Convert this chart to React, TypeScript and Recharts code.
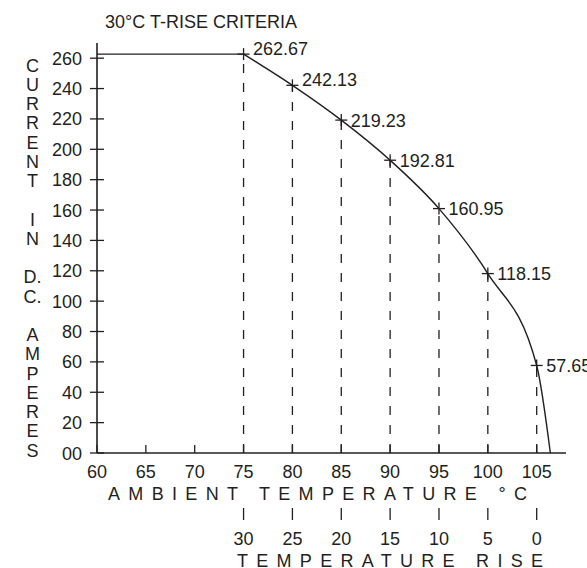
import React from "react";
import {
  ComposedChart,
  Line,
  Scatter,
  XAxis,
  YAxis,
  ReferenceLine,
  LabelList,
  Label,
} from "recharts";

// ---- data ----
const ambientTemps = [75, 80, 85, 90, 95, 100, 105];
const currents = [262.67, 242.13, 219.23, 192.81, 160.95, 118.15, 57.65];
const flatStart = { x: 60, y: 262.67 };
const curveEnd = { x: 106.4, y: 0 };
const xTicks = [60, 65, 70, 75, 80, 85, 90, 95, 100, 105];
const yTicks = [0, 20, 40, 60, 80, 100, 120, 140, 160, 180, 200, 220, 240, 260];
const riseTicks = [75, 80, 85, 90, 95, 100, 105];
const riseBase = 105;
const yLabelLetters = [
  "C", "U", "R", "R", "E", "N", "T", "", "I", "N", "", "D.", "C.", "",
  "A", "M", "P", "E", "R", "E", "S",
];
const titleText = "30°C T-RISE CRITERIA";
const xLabelText = "AMBIENT TEMPERATURE °C";
const riseLabelText = "TEMPERATURE RISE";

const points = ambientTemps.map((x, i) => ({ x, y: currents[i] }));
const flatData = [flatStart, points[0]];
const curveData = [...points, curveEnd];

const INK = "#231f20";
const FONT = "'Liberation Sans', Arial, Helvetica, sans-serif";
const FS = 18;

const YTick = (props: any) => {
  const { x, y, payload } = props;
  const ax = x + 15;
  return (
    <g>
      <line x1={ax - 7} x2={ax + 7} y1={y} y2={y} stroke={INK} strokeWidth={1.3} />
      <text x={x} y={y + 6.5} textAnchor="end" fontSize={FS} fontFamily={FONT} fill={INK}>
        {payload.value === 0 ? "00" : payload.value}
      </text>
    </g>
  );
};

const XTick = (props: any) => {
  const { x, y, payload } = props;
  return (
    <g>
      <line x1={x} x2={x} y1={y - 8} y2={y} stroke={INK} strokeWidth={1.3} />
      <text x={x} y={y + 25} textAnchor="middle" fontSize={FS} fontFamily={FONT} fill={INK}>
        {payload.value}
      </text>
    </g>
  );
};

const RiseTick = (props: any) => {
  const { x, y, payload } = props;
  return (
    <g>
      <line x1={x} x2={x} y1={y} y2={y + 12} stroke={INK} strokeWidth={1.3} />
      <text x={x} y={y + 37} textAnchor="middle" fontSize={FS} fontFamily={FONT} fill={INK}>
        {riseBase - payload.value}
      </text>
    </g>
  );
};

const Cross = (props: any) => {
  const { cx, cy } = props;
  return (
    <g>
      <line x1={cx - 6} x2={cx + 6} y1={cy} y2={cy} stroke={INK} strokeWidth={1.3} />
      <line x1={cx} x2={cx} y1={cy - 6} y2={cy + 6} stroke={INK} strokeWidth={1.3} />
    </g>
  );
};

const PointLabel = (props: any) => {
  const { x, y, width, height, value, index } = props;
  const cx = x + (width || 0) / 2;
  const cy = y + (height || 0) / 2;
  const dy = index < 2 ? 1 : 6.5;
  return (
    <text x={cx + 9.5} y={cy + dy} fontSize={FS} fontFamily={FONT} fill={INK}>
      {value}
    </text>
  );
};

const YLabel = () => (
  <g>
    <text x={105} y={28} fontSize={FS} fontFamily={FONT} fill={INK}>
      {titleText}
    </text>
    {yLabelLetters.map((l, i) => (
      <text
        key={i}
        x={32.5}
        y={71.5 + i * 19.25}
        textAnchor="middle"
        fontSize={FS}
        fontFamily={FONT}
        fill={INK}
      >
        {l}
      </text>
    ))}
  </g>
);

const XLabel = () => (
  <text
    x={108}
    y={500}
    fontSize={FS}
    fontFamily={FONT}
    fill={INK}
    textLength={419}
    lengthAdjust="spacing"
  >
    {xLabelText}
  </text>
);

const RiseLabel = () => (
  <text
    x={237}
    y={567}
    fontSize={FS}
    fontFamily={FONT}
    fill={INK}
    textLength={306}
    lengthAdjust="spacing"
  >
    {riseLabelText}
  </text>
);

export default function App() {
  return (
    <div style={{ position: "absolute", left: 0, top: 0, background: "#fff" }}>
      <ComposedChart
        width={587}
        height={568}
        margin={{ top: 43, right: 21, left: 0, bottom: 0 }}
      >
        <XAxis
          xAxisId="main"
          dataKey="x"
          type="number"
          domain={[60, 108]}
          ticks={xTicks}
          allowDataOverflow
          height={55}
          tickLine={false}
          tickSize={0}
          tickMargin={0}
          axisLine={{ stroke: INK, strokeWidth: 1.6 }}
          tick={<XTick />}
        >
          <Label content={<XLabel />} />
        </XAxis>
        <XAxis
          xAxisId="rise"
          dataKey="x"
          type="number"
          domain={[60, 108]}
          ticks={riseTicks}
          allowDataOverflow
          height={60}
          tickLine={false}
          tickSize={0}
          tickMargin={0}
          axisLine={false}
          tick={<RiseTick />}
        >
          <Label content={<RiseLabel />} />
        </XAxis>
        <YAxis
          yAxisId="main"
          type="number"
          domain={[0, 270]}
          ticks={yTicks}
          allowDataOverflow
          width={97}
          tickLine={false}
          tickSize={7}
          tickMargin={8}
          axisLine={{ stroke: INK, strokeWidth: 1.6 }}
          tick={<YTick />}
        >
          <Label content={<YLabel />} />
        </YAxis>
        {points.map((p) => (
          <ReferenceLine
            key={p.x}
            xAxisId="main"
            yAxisId="main"
            segment={[
              { x: p.x, y: 0 },
              { x: p.x, y: p.y },
            ]}
            stroke={INK}
            strokeWidth={1.3}
            strokeDasharray="9 10"
            ifOverflow="visible"
          />
        ))}
        <Line
          xAxisId="rise"
          yAxisId="main"
          data={points}
          dataKey="y"
          stroke="none"
          dot={false}
          activeDot={false}
          legendType="none"
          isAnimationActive={false}
        />
        <Line
          xAxisId="main"
          yAxisId="main"
          data={flatData}
          dataKey="y"
          type="linear"
          stroke={INK}
          strokeWidth={1.4}
          dot={false}
          activeDot={false}
          isAnimationActive={false}
        />
        <Line
          xAxisId="main"
          yAxisId="main"
          data={curveData}
          dataKey="y"
          type="monotone"
          stroke={INK}
          strokeWidth={1.4}
          dot={false}
          activeDot={false}
          isAnimationActive={false}
        />
        <Scatter
          xAxisId="main"
          yAxisId="main"
          data={points}
          dataKey="y"
          shape={<Cross />}
          isAnimationActive={false}
        >
          <LabelList dataKey="y" content={<PointLabel />} />
        </Scatter>
      </ComposedChart>
    </div>
  );
}
